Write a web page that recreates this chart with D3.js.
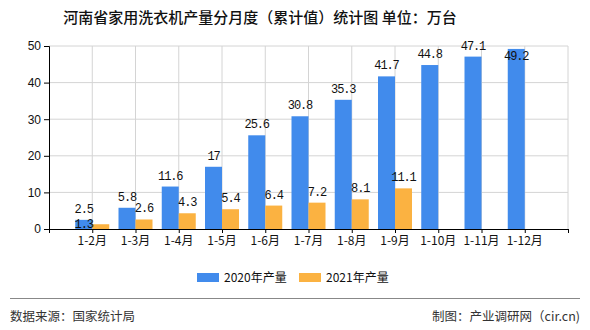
<!DOCTYPE html>
<html><head><meta charset="utf-8">
<script src="https://cdn.jsdelivr.net/npm/d3@7/dist/d3.min.js"></script>
<style>body{margin:0;background:#fff;}svg{display:block;}</style>
</head><body>
<script>
const categories = ["1-2月","1-3月","1-4月","1-5月","1-6月","1-7月","1-8月","1-9月","1-10月","1-11月","1-12月"];
const values2020 = [2.5,5.8,11.6,17,25.6,30.8,35.3,41.7,44.8,47.1,49.2];
const values2021 = [1.3,2.6,4.3,5.4,6.4,7.2,8.1,11.1,null,null,null];
const seriesNames = ["2020年产量","2021年产量"];
const yTicks = [0,10,20,30,40,50];
const titleText = "河南省家用洗衣机产量分月度（累计值）统计图 单位：万台";
const sourceText = "数据来源：国家统计局";
const makerText = "制图：产业调研网（cir.cn)";
const colors = ["#418BEC","#FBB241"];

const W=590,H=330;
const svg=d3.select("body").append("svg").attr("width",W).attr("height",H);
const L=49,R=568,T=46,B=229;
const x=d3.scaleLinear().domain([-1,categories.length]).range([L,R]);
const y=d3.scaleLinear().domain([0,50]).range([B,T]);
const barW=17;

svg.append("text").attr("x",260).attr("y",23).attr("text-anchor","middle")
  .attr("font-family","'Noto Sans CJK SC'").attr("font-size",15).attr("font-weight",500).attr("fill","#111").text(titleText);

// grid
const g=svg.append("g");
g.selectAll(".hg").data(yTicks.filter(d=>d>0)).join("line")
  .attr("x1",L).attr("x2",R).attr("y1",d=>y(d)).attr("y2",d=>y(d)).attr("stroke","#d4d4d4");
const vIdx=d3.range(0,categories.length+1);
g.selectAll(".vg").data(vIdx).join("line")
  .attr("x1",d=>x(d)).attr("x2",d=>x(d)).attr("y1",T).attr("y2",B).attr("stroke","#d4d4d4");

// bars
const s0=svg.append("g"), s1=svg.append("g");
s0.selectAll("rect").data(values2020).join("rect")
  .attr("x",(d,i)=>x(i)-barW).attr("width",barW).attr("y",d=>y(d)).attr("height",d=>B-y(d)).attr("fill",colors[0]);
s1.selectAll("rect").data(values2021.map((v,i)=>({v,i})).filter(d=>d.v!=null)).join("rect")
  .attr("x",d=>x(d.i)).attr("width",barW).attr("y",d=>y(d.v)).attr("height",d=>B-y(d.v)).attr("fill",colors[1]);

// axes
const xa=svg.append("g").attr("transform",`translate(0,${B})`)
  .call(d3.axisBottom(x).tickValues(d3.range(-1,categories.length+1)).tickSize(4).tickFormat(""));
xa.select(".domain").attr("stroke","#000");
xa.selectAll(".tick line").attr("stroke","#000");
svg.append("g").selectAll("text").data(categories).join("text")
  .attr("x",(d,i)=>x(i)).attr("y",B+16).attr("text-anchor","middle")
  .attr("font-family","'Noto Sans CJK SC'").attr("font-size",12).attr("fill","#111").text(d=>d);
const ya=svg.append("g").attr("transform",`translate(${L},0)`)
  .call(d3.axisLeft(y).tickValues(yTicks).tickSize(5).tickPadding(3));
ya.select(".domain").attr("stroke","#000");
ya.selectAll(".tick line").attr("stroke","#000");
ya.selectAll(".tick text").attr("font-family","'Liberation Sans'").attr("font-size",12).attr("fill","#111");

// labels
const lf="'Liberation Mono'";
const lab=svg.append("g").attr("font-family",lf).attr("font-size",12).attr("letter-spacing","-1.1").attr("fill","#111").attr("text-anchor","middle");
const pos0=[];
values2020.forEach((v,i)=>{
  let by=y(v)-7;
  if(by-9<40) by=y(v)+11;
  const cx=x(i)-barW/2;
  lab.append("text").attr("x",cx).attr("y",by).text(v);
  pos0.push({cx,cy:by-4,w:String(v).length*6});
});
values2021.forEach((v,i)=>{
  if(v==null) return;
  const cx=x(i)+barW/2, by=y(v)-7, w=String(v).length*6, a=pos0[i];
  const ov = Math.abs(cx-a.cx) < (w+a.w)/2 && Math.abs((by-4)-a.cy) < 8;
  const t=lab.append("text").attr("x",cx).attr("y",by).text(v);
  if(ov) t.attr("x",x(i)-barW/2).attr("y",y(v)+4);
});

// legend
const lg=svg.append("g");
[0,1].forEach(k=>{
  const lx=197+k*102;
  lg.append("rect").attr("x",lx).attr("y",273).attr("width",22).attr("height",9).attr("fill",colors[k]);
  lg.append("text").attr("x",lx+27).attr("y",281.5).attr("font-family","'Noto Sans CJK SC'").attr("font-size",12).attr("fill","#111").text(seriesNames[k]);
});

// footer
svg.append("line").attr("x1",10).attr("x2",580).attr("y1",298.5).attr("y2",298.5).attr("stroke","#888").attr("stroke-width",1);
svg.append("text").attr("x",10).attr("y",321).attr("font-family","'Noto Sans CJK SC'").attr("font-size",12.5).attr("fill","#333").text(sourceText);
svg.append("text").attr("x",580).attr("y",321).attr("text-anchor","end").attr("font-family","'Noto Sans CJK SC'").attr("font-size",12.5).attr("fill","#333").text(makerText);
</script>
</body></html>
